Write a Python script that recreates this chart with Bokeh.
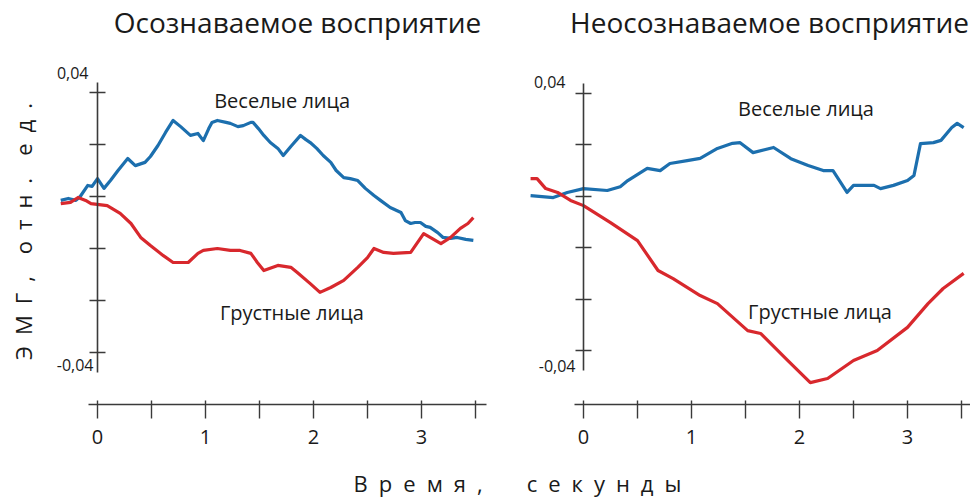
from math import pi
from bokeh.plotting import figure
from bokeh.models import Range1d, LinearAxis, FixedTicker, Label
from bokeh.embed import file_html
from bokeh.resources import INLINE

# ---------------- data ----------------
titles = ["Осознаваемое восприятие", "Неосознаваемое восприятие"]
SP = "\u2002"
x_label = SP.join("Время,") + SP * 4 + SP.join("секунды")
y_label = SP.join("ЭМГ,") + SP * 2 + SP.join("отн.") + SP * 2 + SP.join("ед.")
happy_label = "Веселые лица"
sad_label = "Грустные лица"

x_ticks = [0, 0.5, 1, 1.5, 2, 2.5, 3, 3.5]
x_tick_text = {0: "0", 0.5: "", 1: "1", 1.5: "", 2: "2", 2.5: "", 3: "3", 3.5: ""}
y_ticks = [0.04, 0.024, 0.008, -0.008, -0.024, -0.04]
y_top_text = "0,04"
y_bot_text = "-0,04"

# conscious perception (left panel)
happy_L_t = [-0.34, -0.27, -0.20, -0.16, -0.09, -0.05, 0.00, 0.06, 0.12, 0.19, 0.28, 0.35,
             0.44, 0.49, 0.56, 0.63, 0.70, 0.77, 0.86, 0.93, 0.98, 1.03, 1.06, 1.11,
             1.19, 1.23, 1.30, 1.35, 1.42, 1.44, 1.49, 1.54, 1.60, 1.67, 1.72, 1.79,
             1.88, 1.93, 1.97, 2.03, 2.09, 2.16, 2.21, 2.28, 2.34, 2.41, 2.48, 2.56,
             2.62, 2.71, 2.81, 2.85, 2.90, 2.94, 2.99, 3.04, 3.08, 3.15, 3.20, 3.27,
             3.33, 3.41, 3.48]
happy_L_v = [0.0068, 0.0074, 0.0068, 0.0080, 0.0114, 0.0111, 0.0135, 0.0105, 0.0129,
             0.0160, 0.0197, 0.0175, 0.0185, 0.0203, 0.0237, 0.0277, 0.0314, 0.0295,
             0.0268, 0.0274, 0.0252, 0.0289, 0.0308, 0.0314, 0.0308, 0.0305, 0.0295,
             0.0298, 0.0308, 0.0308, 0.0289, 0.0268, 0.0246, 0.0228, 0.0206, 0.0234,
             0.0268, 0.0255, 0.0246, 0.0228, 0.0206, 0.0185, 0.0160, 0.0138, 0.0135,
             0.0129, 0.0105, 0.0083, 0.0068, 0.0046, 0.0031, 0.0006, -0.0003, 0.0000,
             0.0000, -0.0012, -0.0015, -0.0031, -0.0046, -0.0049, -0.0046, -0.0052,
             -0.0055]
sad_L_t = [-0.34, -0.25, -0.18, -0.11, -0.06, 0.09, 0.21, 0.31, 0.40, 0.49, 0.61, 0.70,
           0.84, 0.93, 0.98, 1.11, 1.23, 1.32, 1.42, 1.48, 1.54, 1.67, 1.79, 1.85,
           1.97, 2.06, 2.16, 2.28, 2.41, 2.50, 2.56, 2.65, 2.74, 2.90, 3.02, 3.18,
           3.27, 3.36, 3.43, 3.48]
sad_L_v = [0.0058, 0.0062, 0.0077, 0.0068, 0.0058, 0.0052, 0.0028, -0.0003, -0.0046,
           -0.0071, -0.0102, -0.0123, -0.0123, -0.0095, -0.0086, -0.0080, -0.0086,
           -0.0086, -0.0095, -0.0123, -0.0148, -0.0132, -0.0138, -0.0154, -0.0188,
           -0.0215, -0.0200, -0.0178, -0.0138, -0.0108, -0.0080, -0.0092, -0.0095,
           -0.0092, -0.0034, -0.0065, -0.0046, -0.0018, -0.0003, 0.0015]

# unconscious perception (right panel)
happy_R_t = [-0.49, -0.28, -0.15, 0.00, 0.22, 0.34, 0.41, 0.59, 0.71, 0.80, 0.96, 1.08,
             1.24, 1.38, 1.45, 1.57, 1.76, 1.92, 2.08, 2.22, 2.31, 2.37, 2.44, 2.50,
             2.69, 2.75, 2.87, 3.00, 3.06, 3.12, 3.24, 3.31, 3.41, 3.46, 3.52]
happy_R_v = [0.0082, 0.0076, 0.0092, 0.0104, 0.0098, 0.0110, 0.0129, 0.0167, 0.0160,
             0.0182, 0.0191, 0.0198, 0.0229, 0.0245, 0.0247, 0.0216, 0.0232, 0.0197,
             0.0176, 0.0160, 0.0160, 0.0129, 0.0092, 0.0114, 0.0114, 0.0104, 0.0114,
             0.0129, 0.0145, 0.0244, 0.0247, 0.0254, 0.0294, 0.0307, 0.0294]
sad_R_t = [-0.49, -0.43, -0.35, -0.24, -0.12, 0.00, 0.25, 0.50, 0.69, 0.83, 1.08, 1.24,
           1.52, 1.64, 1.89, 2.10, 2.26, 2.50, 2.72, 3.00, 3.19, 3.33, 3.52]
sad_R_v = [0.0135, 0.0135, 0.0104, 0.0092, 0.0067, 0.0051, -0.0002, -0.0058, -0.0151,
           -0.0176, -0.0229, -0.0254, -0.0338, -0.0347, -0.0431, -0.0500, -0.0487,
           -0.0431, -0.0400, -0.0328, -0.0254, -0.0207, -0.0160]

# ---------------- style ----------------
BLUE = "#1c6fae"
RED = "#d8282d"
AX = "#3a3a3a"
TXT = "#1a1a1a"
FONT = "Open Sans"

W, H = 970, 499
p = figure(width=W, height=H, output_backend="svg", toolbar_location=None,
           x_range=Range1d(-0.8981, 8.0833), y_range=Range1d(-0.085231, 0.068308),
           x_axis_location=None, y_axis_location=None, min_border=0,
           outline_line_color=None, background_fill_color="white",
           border_fill_color="white")
p.extra_x_ranges = {"right": Range1d(-5.3981, 3.5833)}
p.extra_y_ranges = {"right": Range1d(-0.086381, 0.068949)}
p.xgrid.visible = False
p.ygrid.visible = False


def style_axis(ax):
    ax.axis_line_color = AX
    ax.axis_line_width = 1.6
    ax.major_tick_line_color = AX
    ax.major_tick_line_width = 1.4
    ax.minor_tick_line_color = None
    ax.major_label_text_font = FONT
    ax.major_label_text_color = TXT


for rng, xloc in [("default", -0.056), ("right", -0.0568)]:
    xa = LinearAxis(x_range_name=rng, y_range_name=rng, fixed_location=xloc,
                    ticker=FixedTicker(ticks=x_ticks), bounds=(-0.085, 3.6),
                    major_label_overrides=x_tick_text)
    style_axis(xa)
    xa.major_tick_in = 4
    xa.major_tick_out = 14
    xa.major_label_standoff = 12
    xa.major_label_text_font_size = "20px"
    p.add_layout(xa, "below")

    ya = LinearAxis(x_range_name=rng, y_range_name=rng, fixed_location=0,
                    ticker=FixedTicker(ticks=y_ticks), bounds=(-0.0462, 0.0431),
                    major_label_overrides={t: "" for t in y_ticks})
    style_axis(ya)
    ya.major_tick_in = 8
    ya.major_tick_out = 8
    p.add_layout(ya, "left")

# curves
p.line(happy_L_t, happy_L_v, line_color=BLUE, line_width=3.2, line_join="round")
p.line(sad_L_t, sad_L_v, line_color=RED, line_width=3.2, line_join="round")
p.line(happy_R_t, happy_R_v, line_color=BLUE, line_width=3.2, line_join="round",
       x_range_name="right", y_range_name="right")
p.line(sad_R_t, sad_R_v, line_color=RED, line_width=3.2, line_join="round",
       x_range_name="right", y_range_name="right")

# y tick end labels
for rng, dx_top, dy_top, dx_bot, dy_bot in [("default", -9, 20, -4, -13),
                                             ("right", -18, 11, -8, -15)]:
    p.add_layout(Label(x=0, y=y_ticks[0], x_range_name=rng, y_range_name=rng,
                       text=y_top_text, x_offset=dx_top, y_offset=dy_top,
                       text_align="right", text_baseline="middle",
                       text_font=FONT, text_font_size="16px", text_color=TXT))
    p.add_layout(Label(x=0, y=y_ticks[-1], x_range_name=rng, y_range_name=rng,
                       text=y_bot_text, x_offset=dx_bot, y_offset=dy_bot,
                       text_align="right", text_baseline="middle",
                       text_font=FONT, text_font_size="16px", text_color=TXT))

# curve annotations
for rng, hx, hy, sx, sy in [("default", 1.71, 0.0375, 1.80, -0.0277),
                            ("right", 2.06, 0.0353, 2.19, -0.0279)]:
    p.add_layout(Label(x=hx, y=hy, x_range_name=rng, y_range_name=rng,
                       text=happy_label, text_align="center", text_baseline="middle",
                       text_font=FONT, text_font_size="20px", text_color=TXT))
    p.add_layout(Label(x=sx, y=sy, x_range_name=rng, y_range_name=rng,
                       text=sad_label, text_align="center", text_baseline="middle",
                       text_font=FONT, text_font_size="20px", text_color=TXT))

# panel titles
for cx, t in zip([297, 769], titles):
    p.add_layout(Label(x=cx, y=478, x_units="screen", y_units="screen", text=t,
                       text_align="center", text_baseline="middle",
                       text_font=FONT, text_font_size="28px", text_color=TXT))

# shared axis labels
p.add_layout(Label(x=517, y=17, x_units="screen", y_units="screen", text=x_label,
                   text_align="center", text_baseline="middle",
                   text_font=FONT, text_font_size="22px", text_color=TXT))
p.add_layout(Label(x=22, y=268, x_units="screen", y_units="screen", text=y_label,
                   angle=pi / 2, text_align="center", text_baseline="middle",
                   text_font=FONT, text_font_size="22px", text_color=TXT))

open("out.html", "w").write(file_html(p, INLINE))
